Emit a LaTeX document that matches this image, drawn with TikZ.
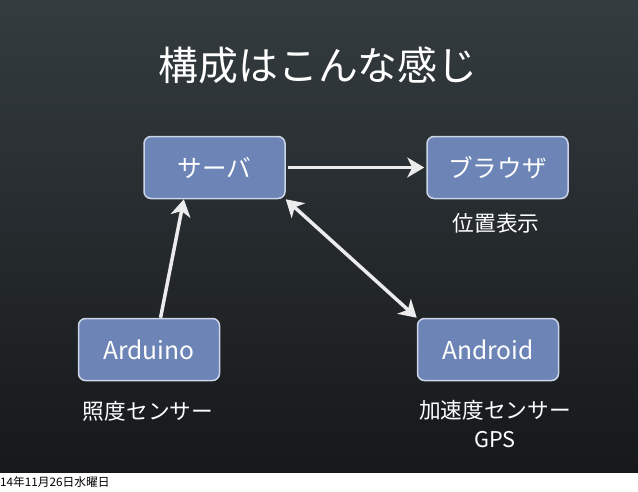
\documentclass[tikz,border=0pt]{standalone}
\usepackage{fontspec}
\setmainfont{Noto Sans CJK JP}
\usetikzlibrary{arrows.meta}

\definecolor{boardtop}{RGB}{52,60,64}
\definecolor{boardbot}{RGB}{22,24,26}
\definecolor{boxfill}{RGB}{108,132,182}
\definecolor{boxline}{RGB}{205,214,232}
\definecolor{chalk}{RGB}{236,236,236}

\begin{document}
\begin{tikzpicture}
   [x=0.03cm, y=-0.03cm,
    box/.style={draw=boxline, line width=1.5*0.03cm, fill=boxfill, rounded corners=7*0.03cm,
                minimum width=141*0.03cm, minimum height=62*0.03cm, inner sep=0pt,
                text=white, font=\fontsize{21}{21}\selectfont},
    label/.style={text=white, font=\fontsize{18.5}{23}\selectfont, align=center},
    chalkline/.style={draw=chalk, line width=3.5*0.03cm,
                -{Stealth[length=17*0.03cm, width=20*0.03cm, inset=5*0.03cm]}}]
   \useasboundingbox (0,0) rectangle (638,491);
   \shade[top color=boardtop, bottom color=boardbot] (0,0) rectangle (638,473);
   \fill[white] (0,473) rectangle (638,491);

   \node[text=white, font=\fontsize{34}{34}\selectfont] (title) at (318,65) {構成はこんな感じ};

   \node[box] (srv) at (214.5,167.5) {サーバ};
   \node[box] (brw) at (497.5,167.5) {ブラウザ};
   \node[box] (ard) at (149,349.5) {Arduino};
   \node[box] (and) at (488,349.5) {Android};

   \node[label] (pos) at (496,223) {位置表示};
   \node[label] (lux) at (148,411) {照度センサー};
   \node[label, font=\fontsize{18.5}{25}\selectfont] (acc) at (495,424) {加速度センサー\\GPS};

   \node[anchor=west, inner sep=0pt, font=\fontsize{10}{10}\selectfont] (date) at (0,482) {14年11月26日水曜日};

   \draw[chalkline, shorten <=2*0.03cm, shorten >=2*0.03cm] (srv.east) -- (brw.west);
   \draw[chalkline] (ard.70) -- (srv.-134);
   \draw[chalkline, {Stealth[length=17*0.03cm, width=20*0.03cm, inset=5*0.03cm]}-{Stealth[length=17*0.03cm, width=20*0.03cm, inset=5*0.03cm]}]
      (srv.south east) -- (and.north west);
\end{tikzpicture}
\end{document}
